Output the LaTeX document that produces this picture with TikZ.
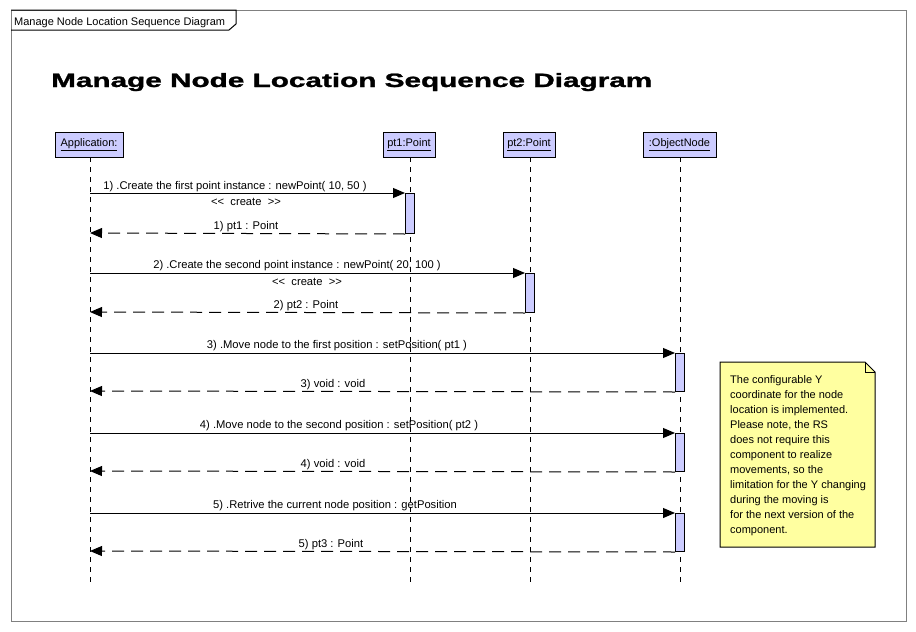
\documentclass[tikz,border=0pt]{standalone}
\usepackage{fontspec}
\setmainfont{Liberation Sans}
\newfontfamily\titlefont{Liberation Sans Bold}[FakeBold=1.2]
\usetikzlibrary{arrows.meta}
\definecolor{boxfill}{RGB}{204,204,255}
\definecolor{notefill}{RGB}{255,255,160}
\definecolor{framegray}{RGB}{128,128,128}
\tikzset{
  lbox/.style={draw=black, fill=boxfill, line width=1pt, minimum height=25pt, inner sep=0pt, font=\fontsize{11}{13}\selectfont},
  actbox/.style={draw=black, fill=boxfill, line width=1pt, minimum width=9pt, inner sep=0pt, anchor=north},
  life/.style={line width=1pt, dash pattern=on 5pt off 5pt},
  msg/.style={line width=1pt, -{Triangle[length=12pt,width=10pt]}},
  ret/.style={line width=1pt, dash pattern=on 12pt off 7pt, -{Triangle[length=12pt,width=10pt]}},
  lbl/.style={anchor=base, inner sep=0pt, font=\fontsize{11.2}{13}\selectfont},
}
\begin{document}
\begin{tikzpicture}[x={(1pt,0)}, y={(0,-1pt)}]
\useasboundingbox (0,0) rectangle (916,632);
% frame
\draw[framegray, line width=1pt] (11,10) rectangle (906,621);
\draw[black, line width=1pt] (11,10) -- (236,10) -- (236,24) -- (229,30) -- (11,30);
\node[anchor=base west, inner sep=0pt, font=\fontsize{11}{13}\selectfont] (frametitle) at (14,25) {Manage Node Location Sequence Diagram};
% title
\node[anchor=base west, inner sep=0pt] (title) at (51,87) {\resizebox{601pt}{14pt}{\titlefont Manage Node Location Sequence Diagram}};
% lifeline boxes
\node[lbox, minimum width=68pt] (app) at (89,144.5) {\underline{Application:}};
\node[lbox, minimum width=52pt] (pt1) at (409,144.5) {\underline{pt1:Point}};
\node[lbox, minimum width=52pt] (pt2) at (529,144.5) {\underline{pt2:Point}};
\node[lbox, minimum width=73pt] (obj) at (679.5,144.5) {\underline{:ObjectNode}};
% lifelines
\coordinate (append) at (90,586);
\coordinate (pt1end) at (410,586);
\coordinate (pt2end) at (530,586);
\coordinate (objend) at (680,586);
\draw[life] (90,157) -- (append);
\draw[life] (410,157) -- (pt1end);
\draw[life] (530,157) -- (pt2end);
\draw[life] (680,157) -- (objend);
% activations
\node[actbox, minimum height=40pt] (a1) at (410,193) {};
\node[actbox, minimum height=39pt] (a2) at (530,273) {};
\node[actbox, minimum height=38pt] (a3) at (680,353) {};
\node[actbox, minimum height=38pt] (a4) at (680,433) {};
\node[actbox, minimum height=38pt] (a5) at (680,513) {};
% coordinates on application lifeline
\coordinate (s1) at (90,193);
\coordinate (r1) at (90,233);
\coordinate (s2) at (90,273);
\coordinate (r2) at (90,312);
\coordinate (s3) at (90,353);
\coordinate (r3) at (90,391);
\coordinate (s4) at (90,433);
\coordinate (r4) at (90,471);
\coordinate (s5) at (90,513);
\coordinate (r5) at (90,551);
% messages
\draw[msg] (s1) -- (a1.north west);
\draw[ret] (a1.south west) -- (r1);
\draw[msg] (s2) -- (a2.north west);
\draw[ret] (a2.south west) -- (r2);
\draw[msg] (s3) -- (a3.north west);
\draw[ret] (a3.south west) -- (r3);
\draw[msg] (s4) -- (a4.north west);
\draw[ret] (a4.south west) -- (r4);
\draw[msg] (s5) -- (a5.north west);
\draw[ret] (a5.south west) -- (r5);
% labels
\node[lbl] (l1) at (235,189) {1) .Create the first point instance : newPoint( 10, 50 )};
\node[lbl] (c1) at (246,205) {<{}<\ \ create\ \ >{}>};
\node[lbl] (l1r) at (246,229) {1) pt1 : Point};
\node[lbl] (l2) at (297,268.5) {2) .Create the second point instance : newPoint( 20, 100 )};
\node[lbl] (c2) at (307,285) {<{}<\ \ create\ \ >{}>};
\node[lbl] (l2r) at (306,308) {2) pt2 : Point};
\node[lbl] (l3) at (337,348.5) {3) .Move node to the first position : setPosition( pt1 )};
\node[lbl] (l3r) at (333,387) {3) void : void};
\node[lbl] (l4) at (339,428.5) {4) .Move node to the second position : setPosition( pt2 )};
\node[lbl] (l4r) at (333,467) {4) void : void};
\node[lbl] (l5) at (335,508.5) {5) .Retrive the current node position : getPosition};
\node[lbl] (l5r) at (331,547) {5) pt3 : Point};
% note
\draw[line width=1pt, fill=notefill] (720,362) -- (865,362) -- (875,372) -- (875,547) -- (720,547) -- cycle;
\draw[line width=1pt] (865,362) -- (865,372) -- (875,372);
\node[anchor=north west, align=left, inner sep=0pt, font=\fontsize{11}{15}\selectfont] (note) at (730,375) {The configurable Y\\coordinate for the node\\location is implemented.\\Please note, the RS\\does not require this\\component to realize\\movements, so the\\limitation for the Y changing\\during the moving is\\for the next version of the\\component.};
\end{tikzpicture}
\end{document}
